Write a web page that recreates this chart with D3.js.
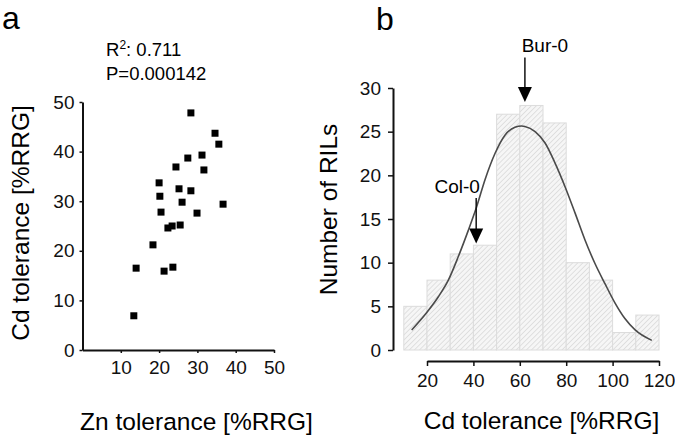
<!DOCTYPE html>
<html>
<head>
<meta charset="utf-8">
<script src="https://cdn.jsdelivr.net/npm/d3@7"></script>
<style>
  body { margin: 0; background: #fff; }
  svg { display: block; font-family: "Liberation Sans", Arial, sans-serif; }
</style>
</head>
<body>
<div id="chart"></div>
<script>
// panel a: Zn vs Cd tolerance
const znTol = [28.3, 34.6, 35.6, 24.4, 27.5, 31.2, 31.7, 20.0, 20.2, 25.2, 28.3, 26.0,
               36.7, 20.5, 29.9, 22.3, 23.4, 25.5, 18.4, 14.0, 21.3, 23.6, 13.4];
const cdTol = [47.8, 43.7, 41.5, 36.9, 38.7, 39.3, 36.3, 33.7, 31.0, 32.5, 32.1, 29.8,
               29.4, 27.8, 27.6, 24.6, 25.0, 25.2, 21.2, 16.5, 15.9, 16.7, 6.9];
const aXTicks = [10, 20, 30, 40, 50];
const aYTicks = [0, 10, 20, 30, 40, 50];

// panel b: histogram of Cd tolerance
const binStart = [10, 20, 30, 40, 50, 60, 70, 80, 90, 100, 110];
const binCount = [5, 8, 11, 12, 27, 28, 26, 10, 8, 2, 4];
const fitX = [13.4, 19.9, 24.9, 29.2, 33.5, 37.8, 41.4, 45.0, 49.3, 53.6, 57.9, 60.8, 62.2,
              66.6, 70.9, 75.2, 79.5, 83.8, 88.1, 92.4, 96.7, 101.0, 105.3, 109.7, 116.9];
const fitY = [2.3, 4.3, 6.1, 8.0, 10.7, 13.7, 16.4, 19.5, 22.5, 24.6, 25.5, 25.65, 25.6,
              25.0, 23.7, 21.4, 18.7, 15.7, 12.6, 9.9, 7.6, 5.4, 3.6, 2.3, 1.1];
const bXTicks = [20, 40, 60, 80, 100, 120];
const bYTicks = [0, 5, 10, 15, 20, 25, 30];
const markers = [
  {label: "Bur-0", x: 62.2, tail: 33.5, tip: 28.4, dx: 20},
  {label: "Col-0", x: 41.2, tail: 17.4, tip: 12.2, dx: -19}
];

const svg = d3.select("#chart").append("svg")
  .attr("width", 675)
  .attr("height", 437);

const defs = svg.append("defs");
const pat = defs.append("pattern")
  .attr("id", "hatch")
  .attr("patternUnits", "userSpaceOnUse")
  .attr("width", 3.6)
  .attr("height", 3.6)
  .attr("patternTransform", "rotate(45)");
pat.append("rect").attr("width", 3.6).attr("height", 3.6).attr("fill", "#f6f6f6");
pat.append("line")
  .attr("x1", 0).attr("y1", 0).attr("x2", 0).attr("y2", 3.6)
  .attr("stroke", "#c9c9c9").attr("stroke-width", 1);

const styleAxis = g => {
  g.select(".domain").attr("stroke", "#111").attr("stroke-width", 2);
  g.selectAll(".tick line").attr("stroke", "#111").attr("stroke-width", 1.5);
  g.selectAll(".tick text").attr("fill", "#111").attr("font-size", 19)
    .attr("font-family", "Liberation Sans, Arial, sans-serif");
};

// ---------- panel a ----------
const ax = d3.scaleLinear().domain([0, 50]).range([82.5, 274]);
const ay = d3.scaleLinear().domain([0, 50]).range([350, 102]);

const gA = svg.append("g");

gA.append("g")
  .attr("transform", "translate(0,350)")
  .call(d3.axisBottom(ax).tickValues(aXTicks).tickSize(3).tickSizeOuter(0).tickPadding(8))
  .call(styleAxis);

gA.append("g")
  .attr("transform", "translate(82.5,0)")
  .call(d3.axisLeft(ay).tickValues(aYTicks).tickSize(3).tickSizeOuter(0).tickPadding(5))
  .call(styleAxis);

gA.selectAll("rect.pt")
  .data(d3.range(znTol.length))
  .join("rect")
  .attr("class", "pt")
  .attr("x", i => ax(znTol[i]) - 3.5)
  .attr("y", i => ay(cdTol[i]) - 3.5)
  .attr("width", 7)
  .attr("height", 7)
  .attr("fill", "#000");

gA.append("text").attr("x", 2).attr("y", 29).attr("font-size", 32).text("a");

const r2 = gA.append("text").attr("x", 106).attr("y", 56).attr("font-size", 18.5);
r2.append("tspan").text("R");
r2.append("tspan").attr("font-size", 12).attr("dy", -7).text("2");
r2.append("tspan").attr("dy", 7).text(": 0.711");
gA.append("text").attr("x", 106).attr("y", 80).attr("font-size", 18.5).text("P=0.000142");

gA.append("text")
  .attr("x", 196.5).attr("y", 430)
  .attr("text-anchor", "middle").attr("font-size", 24.5)
  .text("Zn tolerance [%RRG]");

gA.append("text")
  .attr("transform", "translate(29,223) rotate(-90)")
  .attr("text-anchor", "middle").attr("font-size", 24.5)
  .text("Cd tolerance [%RRG]");

// ---------- panel b ----------
const bx = d3.scaleLinear().domain([20, 120]).range([427, 659]);
const by = d3.scaleLinear().domain([0, 30]).range([350, 88]);

const gB = svg.append("g");

gB.selectAll("rect.bar")
  .data(d3.range(binStart.length))
  .join("rect")
  .attr("class", "bar")
  .attr("x", i => bx(binStart[i]))
  .attr("y", i => by(binCount[i]))
  .attr("width", i => bx(binStart[i] + 10) - bx(binStart[i]))
  .attr("height", i => by(0) - by(binCount[i]))
  .attr("fill", "url(#hatch)")
  .attr("stroke", "#dcdcdc")
  .attr("stroke-width", 1);

gB.append("path")
  .datum(d3.range(fitX.length))
  .attr("fill", "none")
  .attr("stroke", "#4a4a4a")
  .attr("stroke-width", 1.6)
  .attr("d", d3.line().x(i => bx(fitX[i])).y(i => by(fitY[i])).curve(d3.curveMonotoneX));

gB.append("g")
  .attr("transform", "translate(0,361)")
  .call(d3.axisBottom(bx).tickValues(bXTicks).tickSize(5).tickSizeOuter(0).tickPadding(8))
  .call(styleAxis);

gB.append("g")
  .attr("transform", "translate(393,0)")
  .call(d3.axisLeft(by).tickValues(bYTicks).tickSize(5).tickSizeOuter(0).tickPadding(7))
  .call(styleAxis);

const mk = gB.selectAll("g.mk").data(markers).join("g").attr("class", "mk");
mk.append("line")
  .attr("x1", d => bx(d.x)).attr("x2", d => bx(d.x))
  .attr("y1", d => by(d.tail)).attr("y2", d => by(d.tip) - 14)
  .attr("stroke", "#111").attr("stroke-width", 1.5);
mk.append("path")
  .attr("d", d => {
    const x = bx(d.x), y = by(d.tip);
    return `M${x - 7},${y - 15}L${x + 7},${y - 15}L${x},${y}Z`;
  })
  .attr("fill", "#000");
mk.append("text")
  .attr("x", d => bx(d.x) + d.dx)
  .attr("y", d => by(d.tail) - 5)
  .attr("text-anchor", "middle").attr("font-size", 19)
  .text(d => d.label);

gB.append("text").attr("x", 376).attr("y", 30).attr("font-size", 32).text("b");

gB.append("text")
  .attr("x", 541.5).attr("y", 429)
  .attr("text-anchor", "middle").attr("font-size", 24.5)
  .text("Cd tolerance [%RRG]");

gB.append("text")
  .attr("transform", "translate(337,209.5) rotate(-90)")
  .attr("text-anchor", "middle").attr("font-size", 24.5)
  .text("Number of RILs");
</script>
</body>
</html>
